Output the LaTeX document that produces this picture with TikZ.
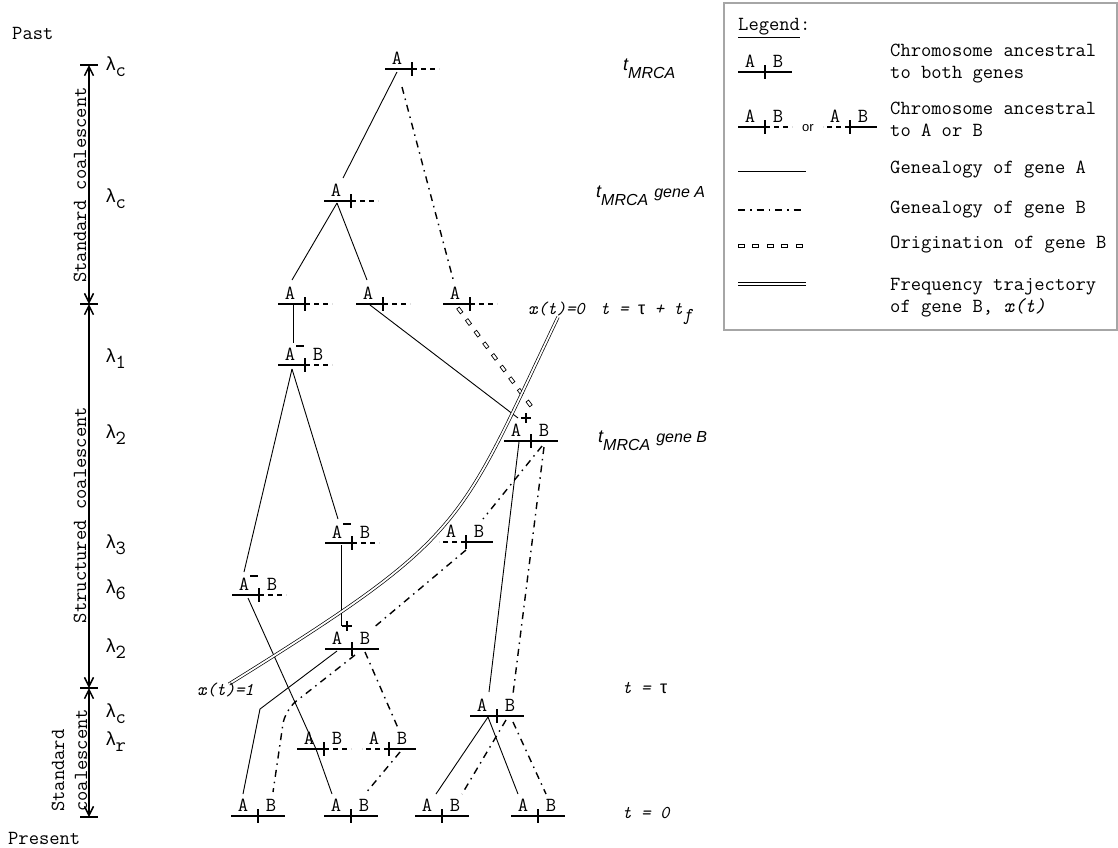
\documentclass[tikz,border=0pt]{standalone}
\usepackage{fontspec}
\newfontfamily\sansf{Liberation Sans}
\usetikzlibrary{calc,arrows.meta,decorations.markings}

\newcommand\chrom[5]{%
  \coordinate (#1) at (#2,#3);
  \draw[chr,#4] (#1) -- ++(-27,0);
  \draw[chr,#5] (#1) -- ++(27,0);
  \draw[chr] ($(#1)+(0,-7)$) -- ($(#1)+(0,7)$);
}
\newcommand\labA[1]{\node[lab] (#1-a) at ($(#1)+(-15,-11)$) {A};}
\newcommand\labB[1]{\node[lab] (#1-b) at ($(#1)+(13,-11)$) {B};}
\newcommand\minusmark[1]{\draw[line width=1.5pt] ($(#1)+(-9,-19)$) -- ++(8,0);}
\newcommand\plusmark[1]{\draw[line width=1.3pt] ($(#1)+(-10,-23)$) -- ++(10,0) ($(#1)+(-5,-28)$) -- ++(0,10);}
\newcommand\lamlab[3]{\node[inner sep=0, anchor=base west] (#1) at (106,#2) {{\sansf\fontsize{19}{19}\selectfont λ}\raisebox{-6pt}{\ttfamily\fontsize{20}{20}\selectfont #3}};}

\begin{document}
\begin{tikzpicture}[x=1pt,y=-1pt,
  chr/.style={line width=1.8pt},
  chrdash/.style={dash pattern=on 5pt off 4pt},
  genA/.style={line width=0.9pt},
  genB/.style={line width=1.4pt, dash pattern=on 7pt off 5pt on 1.5pt off 5pt},
  traj/.style={double, line width=0.7pt, double distance=1.8pt},
  orig/.style={postaction={decorate}, decoration={markings, mark=between positions 3pt and 1 step 14.5pt with {\draw[line width=0.7pt] (-3,-1.6) rectangle (3,1.6);}}},
  lab/.style={inner sep=0, font=\ttfamily\fontsize{20}{20}\selectfont},
  txt/.style={inner sep=0, font=\ttfamily\fontsize{20}{22}\selectfont, align=left},
  tlab/.style={inner sep=0, font=\ttfamily\itshape\fontsize{18}{18}\selectfont},
  axis/.style={line width=1.5pt},
  barb/.style={{Straight Barb[length=9pt,width=9pt]}-{Straight Barb[length=9pt,width=9pt]}},
]
\useasboundingbox (0,0) rectangle (1118,847);

% ---------- time axis ----------
\coordinate (ax0) at (89,65);
\coordinate (ax1) at (89,304);
\coordinate (ax2) at (89,688);
\coordinate (ax3) at (89,817);
\foreach \c in {ax0,ax1,ax2,ax3} \draw[axis] ($(\c)+(-9,0)$) -- ($(\c)+(9,0)$);
\draw[axis,barb] (ax0) -- (ax1);
\draw[axis,barb] (ax1) -- (ax2);
\draw[axis,barb] (ax2) -- (ax3);

\node[txt, anchor=west] (past) at (12,33) {Past};
\node[txt, anchor=west] (present) at (8,838) {Present};
\node[txt, rotate=90] (sc1) at (80,185) {Standard coalescent};
\node[txt, rotate=90] (stc) at (80,515) {Structured coalescent};
\node[txt, rotate=90, anchor=west] (sc2a) at (58,812) {Standard};
\node[txt, rotate=90, anchor=west] (sc2b) at (81,812) {coalescent};

\lamlab{la1}{70}{c}
\lamlab{la2}{202}{c}
\lamlab{la3}{362}{1}
\lamlab{la4}{438}{2}
\lamlab{la5}{548}{3}
\lamlab{la6}{593}{6}
\lamlab{la7}{652}{2}
\lamlab{la8}{717}{c}
\lamlab{la9}{745}{r}

% ---------- chromosomes ----------
\chrom{root}{412}{69}{solid}{chrdash} \labA{root}
\chrom{ga}{351}{201}{solid}{chrdash} \labA{ga}
\chrom{na}{305}{304}{solid}{chrdash} \labA{na}
\chrom{nbb}{383}{304}{solid}{chrdash} \labA{nbb}
\chrom{nc}{470}{304}{solid}{chrdash} \labA{nc}
\chrom{lone}{305}{365}{solid}{chrdash} \labA{lone} \labB{lone} \minusmark{lone}
\chrom{mb}{531}{441}{solid}{solid} \labA{mb} \labB{mb} \plusmark{mb}
\chrom{lthree}{352}{543}{solid}{chrdash} \labA{lthree} \labB{lthree} \minusmark{lthree}
\chrom{rthree}{466}{542}{chrdash}{solid} \labA{rthree} \labB{rthree}
\chrom{lsix}{259}{595}{solid}{chrdash} \labA{lsix} \labB{lsix} \minusmark{lsix}
\chrom{ltwo}{352}{649}{solid}{solid} \labA{ltwo} \labB{ltwo} \plusmark{ltwo}
\chrom{rc}{497}{716}{solid}{solid} \labA{rc} \labB{rc}
\chrom{lra}{324}{749}{solid}{chrdash} \labA{lra} \labB{lra}
\chrom{lrb}{389}{749}{chrdash}{solid} \labA{lrb} \labB{lrb}
\chrom{leafa}{258}{816}{solid}{solid} \labA{leafa} \labB{leafa}
\chrom{leafb}{351}{816}{solid}{solid} \labA{leafb} \labB{leafb}
\chrom{leafc}{442}{816}{solid}{solid} \labA{leafc} \labB{leafc}
\chrom{leafd}{538}{816}{solid}{solid} \labA{leafd} \labB{leafd}

\coordinate (bendA) at (260,709);
\coordinate (bendB) at (285,710);

% ---------- genealogy of gene A ----------
\draw[genA] ($(root)+(-15,3)$) -- ($(ga)+(-8,-23)$);
\draw[genA] ($(ga)+(-14,2)$) -- ($(na)+(-13,-24)$);
\draw[genA] ($(ga)+(-14,2)$) -- ($(nbb)+(-16,-24)$);
\draw[genA] ($(na)+(-12,0)$) -- ($(lone)+(-12,-22)$);
\draw[genA] ($(nbb)+(-13,1)$) -- ($(mb)+(-13,-23)$);
\draw[genA] ($(lone)+(-13,4)$) -- ($(lsix)+(-15,-23)$);
\draw[genA] ($(lone)+(-13,4)$) -- ($(lthree)+(-14,-24)$);
\draw[genA] ($(lthree)+(-11,2)$) -- ($(ltwo)+(-11,-23)$);
\draw[genA] ($(lsix)+(-11,3)$) -- ($(lra)+(-8,0)$) -- ($(leafb)+(-19,-22)$);
\draw[genA] ($(ltwo)+(-15,2)$) -- (bendA) -- ($(leafa)+(-15,-22)$);
\draw[genA] ($(mb)+(-12,1)$) -- ($(rc)+(-8,-24)$);
\draw[genA] ($(rc)+(-9,1)$) -- ($(leafc)+(-6,-22)$);
\draw[genA] ($(rc)+(-9,1)$) -- ($(leafd)+(-20,-22)$);

% ---------- genealogy of gene B ----------
\draw[genB] ($(root)+(-10,18)$) -- ($(nc)+(-17,-25)$);
\draw[genB] ($(mb)+(11,5)$) -- ($(rthree)+(17,-23)$);
\draw[genB] ($(mb)+(13,6)$) -- ($(rc)+(16,-22)$);
\draw[genB] ($(rthree)+(0,8)$) -- ($(ltwo)+(20,-20)$);
\draw[genB, rounded corners=14pt] ($(ltwo)+(3,6)$) -- (bendB) -- ($(leafa)+(15,-24)$);
\draw[genB] ($(ltwo)+(13,3)$) -- ($(lrb)+(9,-21)$);
\draw[genB] ($(lrb)+(11,3)$) -- ($(leafb)+(14,-22)$);
\draw[genB] ($(rc)+(9,4)$) -- ($(leafc)+(20,-22)$);
\draw[genB] ($(rc)+(16,6)$) -- ($(leafd)+(8,-22)$);

% ---------- origination of gene B ----------
\path[orig] ($(nc)+(-12,4)$) -- ($(mb)+(6,-27)$);

% ---------- frequency trajectory ----------
\coordinate (xt0) at (558,317);
\coordinate (xt1) at (229,684);
\draw[traj] (xt0) .. controls (457,529) and (467,536) .. (xt1);

% ---------- time labels ----------
\node[inner sep=0, anchor=base west] (tmrca) at (623,70) {\sansf\itshape\fontsize{18}{18}\selectfont t\raisebox{-8pt}{\fontsize{16}{16}\selectfont MRCA}};
\node[inner sep=0, anchor=base west] (tmrcaA) at (596,197) {\sansf\itshape\fontsize{18}{18}\selectfont t\raisebox{-8pt}{\fontsize{16}{16}\selectfont MRCA}\hspace{6pt}\fontsize{16}{16}\selectfont gene A};
\node[inner sep=0, anchor=base west] (tmrcaB) at (598,442) {\sansf\itshape\fontsize{18}{18}\selectfont t\raisebox{-8pt}{\fontsize{16}{16}\selectfont MRCA}\hspace{6pt}\fontsize{16}{16}\selectfont gene B};
\node[tlab, anchor=base west] (x0lab) at (528,314) {x(t)=0};
\node[tlab, anchor=base west] (ttf) at (600,314) {t = {\sansf\upshape τ} + t\raisebox{-6pt}{f}};
\node[tlab, anchor=base west] (ttau) at (622,693) {t = {\sansf\upshape τ}};
\node[tlab, anchor=base west] (t0) at (622,818) {t = 0};
\node[tlab, anchor=base west] (x1lab) at (197,695) {x(t)=1};

% ---------- legend ----------
\draw[gray!70, line width=1.5pt] (724,3) rectangle (1117,330);
\node[txt, anchor=west] (legt) at (738,28) {\underline{Legend}:};
\chrom{lg1}{765}{72}{solid}{solid} \labA{lg1} \labB{lg1}
\chrom{lg2}{765}{127}{solid}{chrdash} \labA{lg2} \labB{lg2}
\node[inner sep=0, font=\sansf\fontsize{13}{13}\selectfont] (or) at (808,128) {or};
\chrom{lg3}{850}{127}{chrdash}{solid} \labA{lg3} \labB{lg3}
\coordinate (lga0) at (738,171); \coordinate (lga1) at (806,171);
\draw[genA] (lga0) -- (lga1);
\coordinate (lgb0) at (738,210); \coordinate (lgb1) at (803,210);
\draw[genB] (lgb0) -- (lgb1);
\coordinate (lgo0) at (738,246); \coordinate (lgo1) at (806,246);
\path[orig] (lgo0) -- (lgo1);
\coordinate (lgt0) at (738,284); \coordinate (lgt1) at (806,284);
\draw[traj] (lgt0) -- (lgt1);

\node[txt, anchor=west] (l1) at (890,64) {Chromosome ancestral\\to both genes};
\node[txt, anchor=west] (l2) at (890,119) {Chromosome ancestral\\to A or B};
\node[txt, anchor=west] (l3) at (890,170) {Genealogy of gene A};
\node[txt, anchor=west] (l4) at (890,210) {Genealogy of gene B};
\node[txt, anchor=west] (l5) at (890,245) {Origination of gene B};
\node[txt, anchor=west] (l6) at (890,298) {Frequency trajectory\\of gene B, \textit{x(t)}};
\end{tikzpicture}
\end{document}
